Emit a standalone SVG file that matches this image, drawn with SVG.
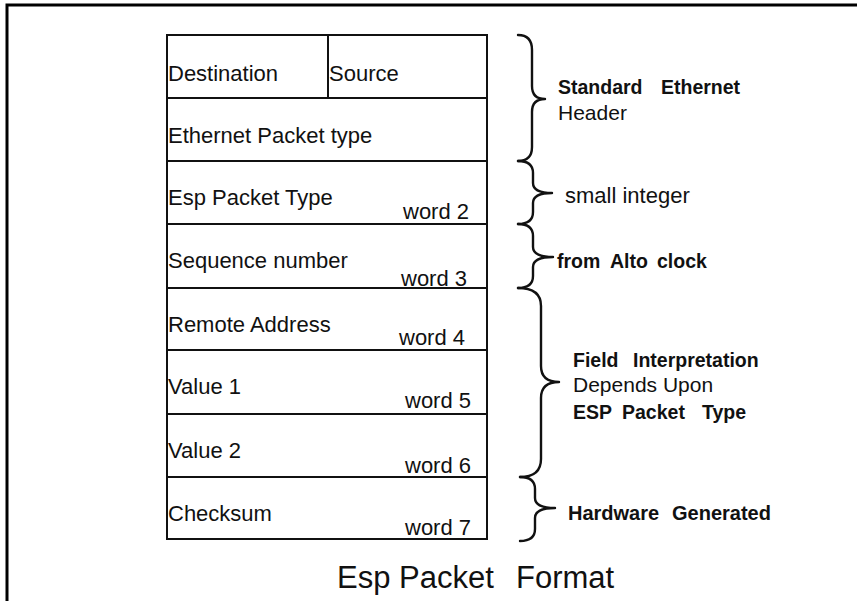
<svg xmlns="http://www.w3.org/2000/svg" width="857" height="601" viewBox="0 0 857 601">
  <style>
    .frame { fill: none; stroke: #000; stroke-width: 3; }
    .cell { fill: #fff; stroke: #111; stroke-width: 2; }
    .rule { stroke: #111; stroke-width: 2; }
    .field { font-family: "Liberation Sans", Arial, sans-serif; font-size: 22px; fill: #111; }
    .word { font-family: "Liberation Sans", Arial, sans-serif; font-size: 22px; fill: #111; }
    .note { font-family: "Liberation Sans", Arial, sans-serif; font-size: 19.5px; fill: #111; }
    .plain { font-size: 21px; }
    .bold { font-weight: bold; }
    .brace { fill: none; stroke: #111; stroke-width: 2.4; stroke-linecap: round; stroke-linejoin: round; }
    .title { font-family: "Liberation Sans", Arial, sans-serif; font-size: 31px; fill: #111; }
  </style>

  <rect width="857" height="601" fill="#fff"/>
  <path class="frame" d="M7,601 L7,5 L857,5"/>

  <!-- packet table -->
  <g id="packet">
    <rect class="cell" x="167" y="35" width="320" height="504"/>

    <g id="row-header-addr">
      <line class="rule" x1="328" y1="35" x2="328" y2="98"/>
      <text class="field" x="168" y="81">Destination</text>
      <text class="field" x="329" y="81">Source</text>
    </g>
    <g id="row-ether-type">
      <line class="rule" x1="167" y1="98" x2="487" y2="98"/>
      <text class="field" x="168" y="143">Ethernet Packet type</text>
    </g>
    <g id="row-esp-type">
      <line class="rule" x1="167" y1="161" x2="487" y2="161"/>
      <text class="field" x="168" y="205">Esp Packet Type</text>
      <text class="word" x="403" y="219">word 2</text>
    </g>
    <g id="row-sequence">
      <line class="rule" x1="167" y1="224" x2="487" y2="224"/>
      <text class="field" x="168" y="268">Sequence number</text>
      <text class="word" x="401" y="286">word 3</text>
    </g>
    <g id="row-remote">
      <line class="rule" x1="167" y1="288" x2="487" y2="288"/>
      <text class="field" x="168" y="332">Remote Address</text>
      <text class="word" x="399" y="345">word 4</text>
    </g>
    <g id="row-value1">
      <line class="rule" x1="167" y1="350" x2="487" y2="350"/>
      <text class="field" x="168" y="394">Value 1</text>
      <text class="word" x="405" y="408">word 5</text>
    </g>
    <g id="row-value2">
      <line class="rule" x1="167" y1="414" x2="487" y2="414"/>
      <text class="field" x="168" y="458">Value 2</text>
      <text class="word" x="405" y="473">word 6</text>
    </g>
    <g id="row-checksum">
      <line class="rule" x1="167" y1="477" x2="487" y2="477"/>
      <text class="field" x="168" y="521">Checksum</text>
      <text class="word" x="405" y="535">word 7</text>
    </g>
  </g>

  <!-- braces grouping the fields -->
  <g id="connectors">
    <path class="brace" d="M518,35 Q532,35 532,50 L532,86 Q532,99 545,99 Q532,99 532,112 L532,147 Q532,161 518,161"/>
    <path class="brace" d="M518,161 Q533,161 533,173 L533,183 Q533,193 552,193 Q533,193 533,203 L533,212 Q533,224 518,224"/>
    <path class="brace" d="M518,224 Q533,224 533,236 L533,247 Q533,257 553,257 Q533,257 533,267 L533,276 Q533,288 518,288"/>
    <path class="brace" d="M518,288 Q541,288 541,306 L541,366 Q541,382 559,382 Q541,382 541,398 L541,459 Q541,477 520,477"/>
    <path class="brace" d="M520,477 Q535,477 535,489 L535,498 Q535,508 555,508 Q535,508 535,518 L535,529 Q535,541 520,541"/>
  </g>

  <!-- brace annotations -->
  <g id="note-ethernet">
    <text class="note bold" y="94"><tspan x="558">Standard</tspan><tspan x="661">Ethernet</tspan></text>
    <text class="note plain" x="558" y="120">Header</text>
  </g>
  <g id="note-small">
    <text class="note plain" x="565" y="203" style="font-size:22px">small integer</text>
  </g>
  <g id="note-alto">
    <text class="note bold" y="268"><tspan x="557">from</tspan><tspan x="610">Alto</tspan><tspan x="657">clock</tspan></text>
  </g>
  <g id="note-field">
    <text class="note bold" y="367"><tspan x="573">Field</tspan><tspan x="633">Interpretation</tspan></text>
    <text class="note plain" x="573" y="392">Depends Upon</text>
    <text class="note bold" y="419"><tspan x="573">ESP</tspan><tspan x="622">Packet</tspan><tspan x="702">Type</tspan></text>
  </g>
  <g id="note-hardware">
    <text class="note bold" y="520" style="font-size:20px"><tspan x="568">Hardware</tspan><tspan x="672">Generated</tspan></text>
  </g>

  <text class="title" y="588"><tspan x="337">Esp</tspan><tspan x="399">Packet</tspan><tspan x="516">Format</tspan></text>
</svg>
